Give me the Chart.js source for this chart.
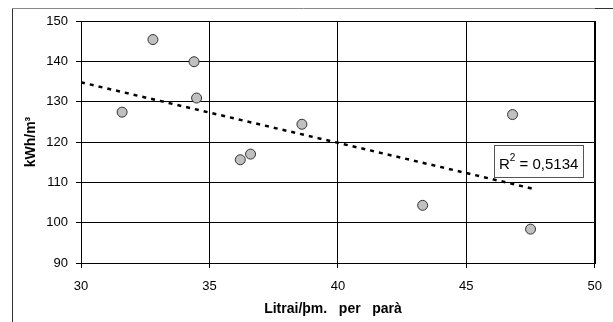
<!DOCTYPE html>
<html>
<head>
<meta charset="utf-8">
<script src="https://cdn.jsdelivr.net/npm/chart.js@4/dist/chart.umd.min.js"></script>
<style>
html,body{margin:0;padding:0;background:#fff;}
#wrap{width:613px;height:322px;position:relative;}
</style>
</head>
<body>
<div id="wrap"><canvas id="c" width="613" height="322"></canvas></div>
<script>
// Data
const xValues = [31.6, 32.8, 34.4, 34.5, 36.2, 36.6, 38.6, 43.3, 46.8, 47.5];
const yValues = [127.4, 145.4, 139.9, 130.9, 115.6, 117.0, 124.4, 104.3, 126.8, 98.4];
const trendX = [30, 47.6];
const trendY = [134.8, 108.4];
const xTickLabels = [30, 35, 40, 45, 50];
const yTickLabels = [90, 100, 110, 120, 130, 140, 150];
const xTitle = 'Litrai/þm.   per   parà';
const yTitle = 'kWh/m³';
const r2Text = '0,5134';

const points = xValues.map((x, i) => ({x: x, y: yValues[i]}));
const trend = trendX.map((x, i) => ({x: x, y: trendY[i]}));

const framePlugin = {
  id: 'frame',
  beforeDraw(chart) {
    const ctx = chart.ctx;
    ctx.save();
    ctx.fillStyle = '#fff';
    ctx.fillRect(0, 0, chart.width, chart.height);
    ctx.lineWidth = 1;
    ctx.strokeStyle = '#888';
    ctx.beginPath();
    ctx.moveTo(12.5, 8.5); ctx.lineTo(595, 8.5);
    ctx.stroke();
    ctx.strokeStyle = '#333';
    ctx.beginPath();
    ctx.moveTo(595, 8.5); ctx.lineTo(613, 8.5);
    ctx.moveTo(12.5, 8.5); ctx.lineTo(12.5, 322);
    ctx.stroke();
    ctx.restore();
  },
  afterDraw(chart) {
    const ctx = chart.ctx;
    ctx.save();
    ctx.fillStyle = '#000';
    ctx.font = 'bold 14px "Liberation Sans", Arial, sans-serif';
    ctx.textAlign = 'center';
    ctx.textBaseline = 'alphabetic';
    ctx.fillText(xTitle, 333, 313);
    ctx.restore();
  },
  afterDatasetsDraw(chart) {
    const ctx = chart.ctx;
    const a = chart.chartArea;
    ctx.save();
    ctx.strokeStyle = '#000';
    ctx.lineWidth = 1;
    ctx.strokeRect(Math.round(a.left) + 0.5, Math.round(a.top) + 0.5, Math.round(a.right - a.left), Math.round(a.bottom - a.top));
    const bx = 494.5, by = 145.5, bw = 89, bh = 32;
    ctx.fillStyle = '#fff';
    ctx.fillRect(bx, by, bw, bh);
    ctx.strokeStyle = '#555';
    ctx.strokeRect(bx, by, bw, bh);
    ctx.fillStyle = '#000';
    ctx.textBaseline = 'alphabetic';
    ctx.font = '15px "Liberation Sans", Arial, sans-serif';
    let tx = 499, ty = 169;
    ctx.fillText('R', tx, ty);
    tx += ctx.measureText('R').width;
    ctx.font = '10px "Liberation Sans", Arial, sans-serif';
    ctx.fillText('2', tx, ty - 8);
    tx += ctx.measureText('2').width;
    ctx.font = '15px "Liberation Sans", Arial, sans-serif';
    ctx.fillText(' = ' + r2Text, tx, ty);
    ctx.restore();
  }
};

new Chart(document.getElementById('c'), {
  type: 'scatter',
  data: {
    datasets: [
      {
        type: 'line',
        data: trend,
        borderColor: '#000',
        borderWidth: 2.5,
        borderDash: [4, 5],
        pointRadius: 0,
        fill: false,
        order: 2
      },
      {
        data: points,
        pointRadius: 5,
        pointBackgroundColor: '#c0c0c0',
        pointBorderColor: '#333',
        pointBorderWidth: 1,
        order: 1
      }
    ]
  },
  plugins: [framePlugin],
  options: {
    responsive: false,
    animation: false,
    devicePixelRatio: 1,
    layout: {padding: {left: 12, top: 21, right: 18, bottom: 0}},
    plugins: {legend: {display: false}, tooltip: {enabled: false}},
    scales: {
      x: {
        type: 'linear',
        min: 30, max: 50,
        afterBuildTicks(s) { s.ticks = xTickLabels.map(v => ({value: v})); },
        afterFit(s) { s.height = 59; },
        border: {display: false},
        grid: {color: '#000', lineWidth: 1, tickLength: 5, drawTicks: true},
        ticks: {color: '#000', padding: 11, maxRotation: 0, font: {family: '"Liberation Sans", Arial, sans-serif', size: 13}},
        title: {display: false}
      },
      y: {
        type: 'linear',
        min: 90, max: 150,
        afterBuildTicks(s) { s.ticks = yTickLabels.map(v => ({value: v})); },
        afterFit(s) { s.width = 69; },
        border: {display: false},
        grid: {color: '#000', lineWidth: 1, tickLength: 5, drawTicks: true},
        ticks: {color: '#000', padding: 8, font: {family: '"Liberation Sans", Arial, sans-serif', size: 13}},
        title: {display: true, text: yTitle, color: '#000', padding: {top: 11, bottom: 4}, font: {family: '"Liberation Sans", Arial, sans-serif', size: 14, weight: 'bold'}}
      }
    }
  }
});
</script>
</body>
</html>
